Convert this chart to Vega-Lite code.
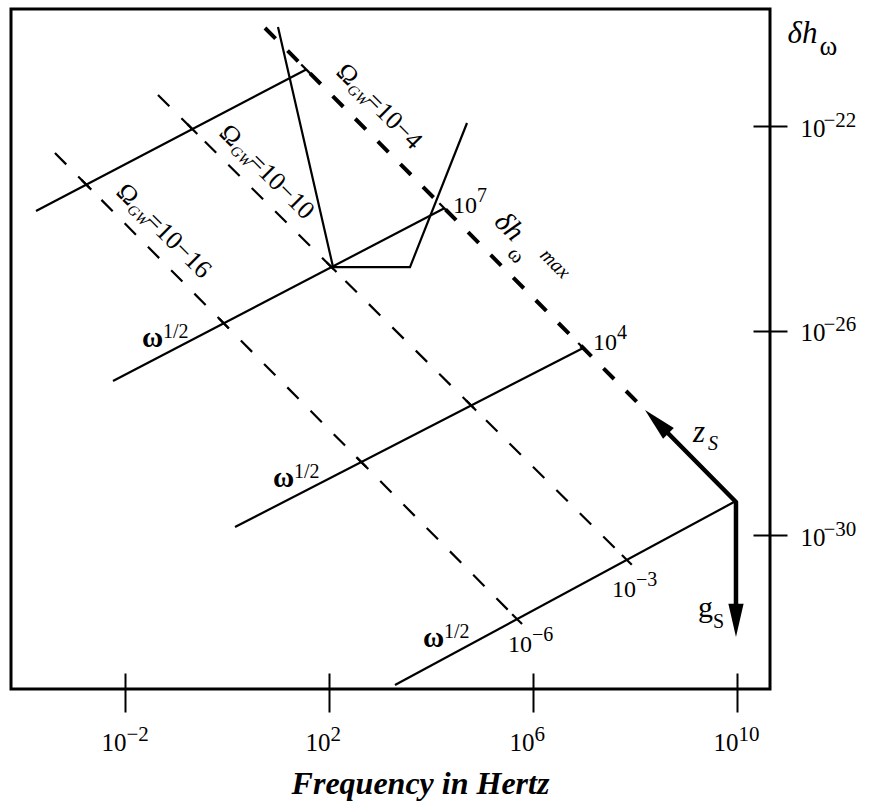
{
  "$schema": "https://vega.github.io/schema/vega-lite/v6.json",
  "width": 759,
  "height": 680,
  "autosize": {"type": "none"},
  "padding": {"left": 11, "top": 9, "right": 102, "bottom": 121},
  "background": "white",
  "config": {
    "view": {"stroke": "black", "strokeWidth": 3},
    "axis": {"grid": false, "domain": false, "labelFont": "Liberation Serif", "titleFont": "Liberation Serif", "labelColor": "black", "titleColor": "black", "tickColor": "black", "tickWidth": 2, "labelFlush": false, "labelOverlap": false, "labelBound": false},
    "text": {"font": "Liberation Serif", "color": "black"}
  },
  "datasets": {
    "omega_labels": [
      {"log10_f": 2.118, "log10_dh": -20.969, "rest": "=10−4"},
      {"log10_f": -0.176, "log10_dh": -22.162, "rest": "=10−10"},
      {"log10_f": -2.196, "log10_dh": -23.316, "rest": "=10−16"}
    ],
    "dhmax_label": [{"log10_f": 5.216, "log10_dh": -23.897}],
    "sqrt_labels": [
      {"log10_f": -1.667, "log10_dh": -26.323},
      {"log10_f": 0.902, "log10_dh": -29.061},
      {"log10_f": 3.843, "log10_dh": -32.191}
    ],
    "power_labels": [
      {"log10_f": 4.431, "log10_dh": -23.702, "exp": "7"},
      {"log10_f": 7.176, "log10_dh": -26.381, "exp": "4"},
      {"log10_f": 7.549, "log10_dh": -31.213, "exp": "−3"},
      {"log10_f": 5.51, "log10_dh": -32.289, "exp": "−6"}
    ],
    "z_label": [{"log10_f": 9.137, "log10_dh": -28.181}],
    "g_label": [{"log10_f": 9.235, "log10_dh": -31.604}]
  },
  "resolve": {"axis": {"x": "independent", "y": "independent"}},
  "encoding": {
    "x": {"field": "log10_f", "type": "quantitative", "scale": {"domain": [-4.235, 10.647], "nice": false, "zero": false}, "axis": null},
    "y": {"field": "log10_dh", "type": "quantitative", "scale": {"domain": [-33.012, -19.711], "nice": false, "zero": false}, "axis": null}
  },
  "layer": [
    {
      "data": {"values": [
        {"series": "S1", "i": 0, "log10_f": -3.745, "log10_dh": -23.663},
        {"series": "S1", "i": 1, "log10_f": 1.553, "log10_dh": -20.893},
        {"series": "S2", "i": 0, "log10_f": -2.235, "log10_dh": -26.988},
        {"series": "S2", "i": 1, "log10_f": 4.261, "log10_dh": -23.609},
        {"series": "S3", "i": 0, "log10_f": 0.157, "log10_dh": -29.844},
        {"series": "S3", "i": 1, "log10_f": 6.984, "log10_dh": -26.34},
        {"series": "S4", "i": 0, "log10_f": 3.294, "log10_dh": -32.934},
        {"series": "S4", "i": 1, "log10_f": 9.941, "log10_dh": -29.355},
        {"series": "detector", "i": 0, "log10_f": 1.0, "log10_dh": -20.064},
        {"series": "detector", "i": 1, "log10_f": 2.08, "log10_dh": -24.76},
        {"series": "detector", "i": 2, "log10_f": 3.588, "log10_dh": -24.76},
        {"series": "detector", "i": 3, "log10_f": 4.706, "log10_dh": -21.941}
      ]},
      "mark": {"type": "line", "color": "black", "strokeWidth": 2.2},
      "encoding": {
        "x": {"field": "log10_f", "type": "quantitative", "scale": {"domain": [-4.235, 10.647], "nice": false, "zero": false},
          "axis": {"orient": "bottom", "values": [-2, 2, 6, 10], "labelExpr": "'10'", "offset": -16, "tickSize": 39, "labelPadding": 38, "labelAlign": "right", "labelBaseline": "alphabetic", "labelOffset": 1, "labelFontSize": 25,
            "title": "Frequency in Hertz", "titleFontSize": 32, "titleFontStyle": "italic", "titleFontWeight": "bold", "titleX": 409, "titleY": 120, "titleAlign": "center", "titleBaseline": "alphabetic"}},
        "y": {"field": "log10_dh", "type": "quantitative", "scale": {"domain": [-33.012, -19.711], "nice": false, "zero": false},
          "axis": {"orient": "right", "values": [-30, -26, -22], "labelExpr": "'10'", "offset": -17, "tickSize": 34, "labelPadding": 13, "labelAlign": "left", "labelBaseline": "alphabetic", "labelOffset": 10, "labelFontSize": 25,
            "title": "δh", "titleAngle": 0, "titleX": 34, "titleY": 33, "titleAlign": "left", "titleBaseline": "alphabetic", "titleFontSize": 31, "titleFontStyle": "italic", "titleFontWeight": "normal"}},
        "detail": {"field": "series"},
        "order": {"field": "i"}
      }
    },
    {
      "data": {"values": [
        {"series": "Omega 1e-16", "i": 0, "log10_f": -3.373, "log10_dh": -22.528},
        {"series": "Omega 1e-16", "i": 1, "log10_f": 5.688, "log10_dh": -31.645},
        {"series": "Omega 1e-10", "i": 0, "log10_f": -1.353, "log10_dh": -21.394},
        {"series": "Omega 1e-10", "i": 1, "log10_f": 7.84, "log10_dh": -30.486}
      ]},
      "mark": {"type": "line", "color": "black", "strokeWidth": 2.2, "strokeDash": [16, 17]},
      "encoding": {
        "x": {"field": "log10_f", "type": "quantitative", "scale": {"domain": [-4.235, 10.647], "nice": false, "zero": false},
          "axis": {"orient": "bottom", "values": [-2, 2, 6, 10], "labelExpr": "format(datum.value, 'd')", "offset": -16, "tickSize": 39, "tickOpacity": 0, "labelPadding": 28, "labelAlign": "left", "labelBaseline": "alphabetic", "labelOffset": 1, "labelFontSize": 21, "title": null}},
        "y": {"field": "log10_dh", "type": "quantitative", "scale": {"domain": [-33.012, -19.711], "nice": false, "zero": false},
          "axis": {"orient": "right", "values": [-30, -26, -22], "labelExpr": "format(datum.value, 'd')", "offset": -17, "tickSize": 34, "tickOpacity": 0, "labelPadding": 36, "labelAlign": "left", "labelBaseline": "alphabetic", "labelOffset": 0, "labelFontSize": 21,
            "title": "ω", "titleAngle": 0, "titleX": 66, "titleY": 45, "titleAlign": "left", "titleBaseline": "alphabetic", "titleFontSize": 27, "titleFontWeight": "normal"}},
        "detail": {"field": "series"},
        "order": {"field": "i"}
      }
    },
    {
      "data": {"values": [
        {"series": "dh max (Omega 1e-4)", "i": 0, "log10_f": 0.745, "log10_dh": -20.083},
        {"series": "dh max (Omega 1e-4)", "i": 1, "log10_f": 8.1, "log10_dh": -27.46}
      ]},
      "mark": {"type": "line", "color": "black", "strokeWidth": 4, "strokeDash": [15, 17]},
      "encoding": {"detail": {"field": "series"}, "order": {"field": "i"}}
    },
    {
      "data": {"values": [
        {"series": "zs-gs", "i": 0, "log10_f": 8.392, "log10_dh": -27.751},
        {"series": "zs-gs", "i": 1, "log10_f": 9.98, "log10_dh": -29.355},
        {"series": "zs-gs", "i": 2, "log10_f": 9.98, "log10_dh": -31.663}
      ]},
      "mark": {"type": "line", "color": "black", "strokeWidth": 4.5, "strokeJoin": "round"},
      "encoding": {"detail": {"field": "series"}, "order": {"field": "i"}}
    },
    {
      "data": {"values": [{"arrow": "zs", "log10_f": 8.196, "log10_dh": -27.555}]},
      "mark": {"type": "point", "shape": "M0,0L-0.46,2L0.46,2Z", "size": 1100, "angle": -45, "filled": true, "color": "black", "opacity": 1, "strokeWidth": 0},
      "encoding": {}
    },
    {
      "data": {"values": [{"arrow": "gs", "log10_f": 9.98, "log10_dh": -31.995}]},
      "mark": {"type": "point", "shape": "M0,0L-0.46,2L0.46,2Z", "size": 1100, "angle": 180, "filled": true, "color": "black", "opacity": 1, "strokeWidth": 0},
      "encoding": {}
    },
    {
      "data": {"values": [
        {"log10_f": -2.758, "log10_dh": -23.147},
        {"log10_f": -0.063, "log10_dh": -25.858},
        {"log10_f": 2.634, "log10_dh": -28.573},
        {"log10_f": 5.688, "log10_dh": -31.645},
        {"log10_f": -0.679, "log10_dh": -22.06},
        {"log10_f": 2.05, "log10_dh": -24.76},
        {"log10_f": 4.788, "log10_dh": -27.467},
        {"log10_f": 7.84, "log10_dh": -30.486},
        {"log10_f": 1.553, "log10_dh": -20.893},
        {"log10_f": 4.261, "log10_dh": -23.609},
        {"log10_f": 6.984, "log10_dh": -26.34}
      ]},
      "mark": {"type": "point", "shape": "stroke", "size": 196, "angle": 45, "filled": false, "color": "black", "opacity": 1, "strokeWidth": 2.2},
      "encoding": {}
    },
    {
      "data": {"name": "omega_labels"},
      "mark": {"type": "text", "text": "Ω", "fontSize": 26, "angle": 45, "align": "left", "baseline": "alphabetic"},
      "encoding": {}
    },
    {
      "data": {"name": "omega_labels"},
      "mark": {"type": "text", "text": "GW", "fontSize": 15, "fontStyle": "italic", "angle": 45, "align": "left", "baseline": "alphabetic", "dx": 20, "dy": 4},
      "encoding": {}
    },
    {
      "data": {"name": "omega_labels"},
      "mark": {"type": "text", "fontSize": 26, "angle": 45, "align": "left", "baseline": "alphabetic", "dx": 41},
      "encoding": {"text": {"field": "rest"}}
    },
    {
      "data": {"name": "dhmax_label"},
      "mark": {"type": "text", "text": "δh", "fontSize": 29, "fontStyle": "italic", "angle": 45, "align": "left", "baseline": "alphabetic"},
      "encoding": {}
    },
    {
      "data": {"name": "dhmax_label"},
      "mark": {"type": "text", "text": "ω", "fontSize": 21, "angle": 45, "align": "left", "baseline": "alphabetic", "dx": 32, "dy": 13},
      "encoding": {}
    },
    {
      "data": {"name": "dhmax_label"},
      "mark": {"type": "text", "text": "max", "fontSize": 20, "fontStyle": "italic", "angle": 45, "align": "left", "baseline": "alphabetic", "dx": 56, "dy": -9},
      "encoding": {}
    },
    {
      "data": {"name": "sqrt_labels"},
      "mark": {"type": "text", "text": "ω", "fontSize": 29, "fontWeight": "bold", "align": "left", "baseline": "alphabetic"},
      "encoding": {}
    },
    {
      "data": {"name": "sqrt_labels"},
      "mark": {"type": "text", "text": "1/2", "fontSize": 20, "align": "left", "baseline": "alphabetic", "dx": 21, "dy": -9},
      "encoding": {}
    },
    {
      "data": {"name": "power_labels"},
      "mark": {"type": "text", "text": "10", "fontSize": 24, "align": "left", "baseline": "alphabetic"},
      "encoding": {}
    },
    {
      "data": {"name": "power_labels"},
      "mark": {"type": "text", "fontSize": 20, "align": "left", "baseline": "alphabetic", "dx": 24, "dy": -11},
      "encoding": {"text": {"field": "exp"}}
    },
    {
      "data": {"name": "z_label"},
      "mark": {"type": "text", "text": "z", "fontSize": 31, "fontStyle": "italic", "align": "left", "baseline": "alphabetic"},
      "encoding": {}
    },
    {
      "data": {"name": "z_label"},
      "mark": {"type": "text", "text": "S", "fontSize": 20, "fontStyle": "italic", "align": "left", "baseline": "alphabetic", "dx": 15, "dy": 8},
      "encoding": {}
    },
    {
      "data": {"name": "g_label"},
      "mark": {"type": "text", "text": "g", "fontSize": 30, "align": "left", "baseline": "alphabetic"},
      "encoding": {}
    },
    {
      "data": {"name": "g_label"},
      "mark": {"type": "text", "text": "S", "fontSize": 20, "align": "left", "baseline": "alphabetic", "dx": 15, "dy": 11},
      "encoding": {}
    }
  ]
}
